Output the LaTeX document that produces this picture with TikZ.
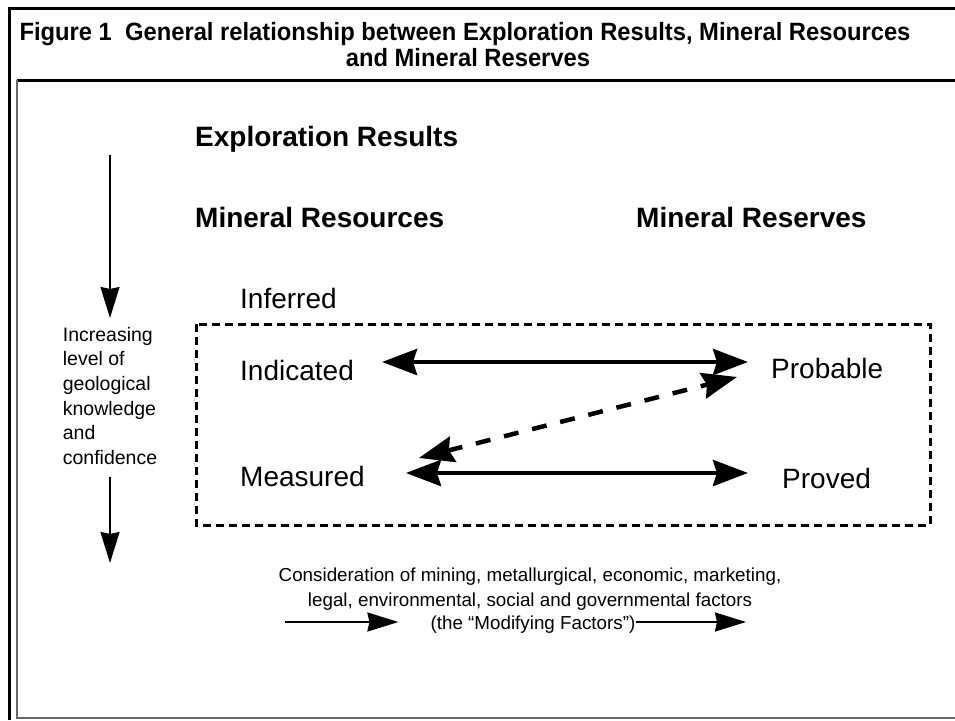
\documentclass[tikz,border=0pt]{standalone}
\usepackage{fontspec}
\setmainfont{Liberation Sans}
\usetikzlibrary{arrows.meta,positioning}

\begin{document}
\begin{tikzpicture}[x=1pt,y=-1pt]
            \tikzstyle{title}=[font=\bfseries\fontsize{25}{27}\selectfont, anchor=base, inner sep=0pt]
            \tikzstyle{heading}=[font=\bfseries\fontsize{28}{30}\selectfont, anchor=base west, inner sep=0pt]
            \tikzstyle{category}=[font=\fontsize{28}{30}\selectfont, anchor=base west, inner sep=0pt]
            \tikzstyle{note}=[font=\fontsize{19.5}{24.6}\selectfont, inner sep=0pt]
            \tikzstyle{smallnote}=[font=\fontsize{18.8}{25}\selectfont, inner sep=0pt]
            \tikzstyle{frame}=[line width=3pt, black]
            \tikzstyle{innerframe}=[line width=2pt, black!60]
            \tikzstyle{dashbox}=[line width=3pt, dash pattern=on 8pt off 5pt]
            \tikzstyle{bigarrow}=[line width=4.5pt, {Stealth[length=35pt,width=26pt,inset=4pt]}-{Stealth[length=35pt,width=26pt,inset=4pt]}]
            \tikzstyle{dasharrow}=[bigarrow, dash pattern=on 15pt off 14pt]
            \tikzstyle{thinarrow}=[line width=2pt, -{Stealth[length=31pt,width=19pt,inset=2pt]}]
            \useasboundingbox (0,0) rectangle (955,720);
            \fill[white] (0,0) rectangle (955,720);

            % frames
            \draw[frame] (9,720) -- (9,8) -- (955,8);
            \draw[frame] (17,80) -- (955,80);
            \draw[innerframe] (17,80) -- (17,718) -- (955,718);

            \node[title] (T1) at (465,40){\scalebox{0.95}[1]{Figure 1\ \ General relationship between Exploration Results, Mineral Resources}};
            \node[title] (T2) at (468,66){\scalebox{0.95}[1]{and Mineral Reserves}};

            \node[heading] (ER) at (195,146){Exploration Results};
            \node[heading] (MRes) at (195,227){Mineral Resources};
            \node[heading] (MRsv) at (636,227){Mineral Reserves};

            \node[category] (Inf) at (240,308){Inferred};
            \node[category] (Ind) at (240,380){Indicated};
            \node[category] (Prob) at (771,378){Probable};
            \node[category] (Meas) at (240,486){Measured};
            \node[category] (Prov) at (782,488){Proved};
            \draw[dashbox] (196,324) rectangle (930,525);

            \path[-] ([xshift=28pt,yshift=8pt]Ind.east) edge [bigarrow] ([xshift=-23pt,yshift=6pt]Prob.west);
            \path[-] ([xshift=41pt,yshift=3pt]Meas.east) edge [bigarrow] ([xshift=-34pt,yshift=5pt]Prov.west);
            \path[-] ([xshift=54pt,yshift=18pt]Meas.east) edge [dasharrow] ([xshift=-34pt,yshift=-9pt]Prob.west);

            % knowledge axis
            \node[note, align=left, anchor=north] (Know) at (110,327){Increasing\\level of\\geological\\knowledge\\and\\confidence};
            \coordinate (KTop) at (110,155);
            \coordinate (KBot) at (110,563);
            \path[-] (KTop) edge [thinarrow, shorten >=9pt] (Know.north);
            \path[-] (Know.south) edge [thinarrow, shorten <=12pt] (KBot);

            % modifying factors
            \node[smallnote, align=center, anchor=north] (Cons) at (530,568){Consideration of mining, metallurgical, economic, marketing,\\legal, environmental, social and governmental factors};
            \node[smallnote, anchor=base] (MF) at (533,629){(the “Modifying Factors”)};
            \coordinate (MFa) at (285,622);
            \coordinate (MFb) at (746,622);
            \path[-] (MFa) edge [thinarrow, shorten >=32pt] (MF.west |- MFa);
            \path[-] (MF.east |- MFb) edge [thinarrow] (MFb);
        \end{tikzpicture}
\end{document}
